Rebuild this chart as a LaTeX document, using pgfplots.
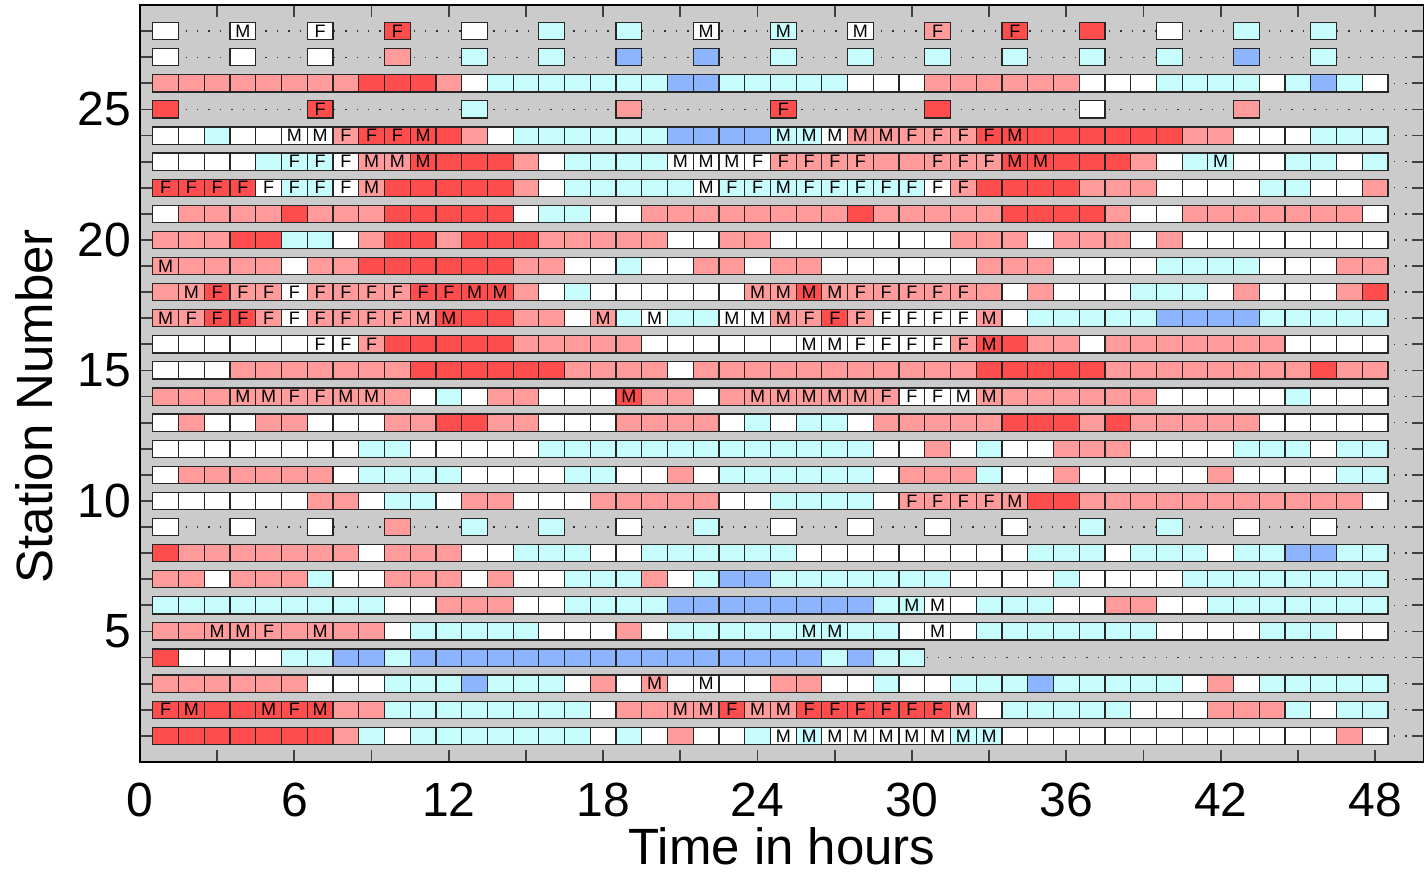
\documentclass[border=0pt]{standalone}
\usepackage{pgfplots}
\usepackage{pgfplotstable}
\pgfplotsset{compat=1.18}
\usepackage{fontspec}
\setmainfont{Liberation Sans}
\usetikzlibrary{calc}

\definecolor{cW}{RGB}{255,255,255}
\definecolor{cC}{RGB}{198,252,252}
\definecolor{cB}{RGB}{140,180,255}
\definecolor{cP}{RGB}{255,155,155}
\definecolor{cR}{RGB}{255,76,76}
\definecolor{bg}{RGB}{203,203,203}

\newcommand\boxpath{\pgfpathrectangle{\pgfpoint{-6.43pt}{-4.3pt}}{\pgfpoint{12.86pt}{8.6pt}}\pgfusepathqfillstroke}
\pgfdeclareplotmark{bx}{\boxpath}
\pgfdeclareplotmark{bxM}{\boxpath\pgftext{\color{black}\fontsize{9}{9}\selectfont M}}
\pgfdeclareplotmark{bxF}{\boxpath\pgftext{\color{black}\fontsize{9}{9}\selectfont F}}
\pgfdeclareplotmark{nobx}{}

% W white, C cyan, B blue, P light red, R red; suffix M/F = label; N = no observation
\pgfplotstableread{
st h1 h2 h3 h4 h5 h6 h7 h8 h9 h10 h11 h12 h13 h14 h15 h16 h17 h18 h19 h20 h21 h22 h23 h24 h25 h26 h27 h28 h29 h30 h31 h32 h33 h34 h35 h36 h37 h38 h39 h40 h41 h42 h43 h44 h45 h46 h47 h48
1  R R R R R R R P C W C C  C C C C C W C W P W W C  WM CM WM WM WM WM WM CM CM W W W  W W W W W W W W W W P W
2  RF RM R R RM RF RM P P C C C  C C C C C W P P PM PM RF PM  PM RF RF RF RF RF RF PM W C C C  C C W W W P P P C W C C
3  P P P P P P W W W C C C  B C C C W P W PM W WM W W  P P W W C W W C C C B C  C C C C W P W C C C C C
4  R W W W W C C B B C B B  B B B B B B B B B B B B  B B C B C C N N N N N N  N N N N N N N N N N N N
5  P P PM PM PF P PM P P W C C  C C C W W W P W C C C C  C CM CM C C W WM W C C C C  C C C W W W W C C C W W
6  C C C C C C C C C W W P  P P W W C C C C B B B B  B B B B C CM WM W C C C W  W P P W W C C C C C C C
7  P P W P P P C W W P P P  W P W W C C C P W C B B  C C C C C C C W W W W C  W W W W C C C C C C C C
8  R P P P P P P P W P P P  W W C C C W W C C C C C  C W W W W W W W W W C C  C W C C C W C C B B C C
9  W N N W N N W N N P N N  C N N C N N W N N C N N  W N N W N N W N N W N N  C N N C N N W N N W N N
10 W W W W W W P P W C C W  P P W W W P P P P P W W  C C C C W PF PF PF PF PM R R  P P P P P P P P P P P W
11 W P P P P P P W C C C C  W W W W C C W W P W C C  C C C C W P P P C W W P  W W W W W P W W W W C C
12 W W W W W W W W C C W W  W W W C C C C C C C C C  C C C C W W P W C W W P  P P W W W W C C C W C C
13 W P W W P P W W W P P R  R P P W W W P P P P W C  W C C W P P P P P R R R  P R P P P P P W W W W W
14 P P P PM PM PF PF PM PM P W C  W P P W W W RM P P W P PM  PM PM PM PM PF WF WF WM PM P P P  P P P W W W W W C W W W
15 W W W P P P P P P P R R  R R R R P P P P W P P P  P P P P P P P P R R R R  R P P P P P P P P R P P
16 W W W W W W WF WF PF R R R  R R P P P P P W W W W W  W WM WM WF WF WF WF PF RM R P P  W P P P P P P P W W W W
17 PM PF RF RF PF WF PF PF PF PF PM RM  R R P P W PM C WM C C WM WM  PM PF RF PF WF WF WF WF PM W C C  C C C B B B B C C C C C
18 P PM RF PF PF WF PF PF PF PF RF RF  RM RM P W C W W W W W W PM  PM RM PM PF PF PF PF PF P W P W  W W C C C W P W W W P R
19 PM P P P P W P P R R R R  R R P P W W C W W P P W  P P W W W W W W P P P W  W W W C C C C W W W P P
20 P P P R R C C W P R R P  R R R P P P P P W W P P  W W W W W W W P P P W P  P P W P W W W W W W W W
21 W P P P P R P P P R R R  R R W C C W W P P P P P  P P P R P P P P P R R R  R P W W P P P P P P P W
22 RF RF RF RF WF CF CF WF PM R R R  R R P W C C C C C WM CF CF  CM CF CF CF CF CF WF PF R R R R  P P P W W W W C C W W P
23 W W W W C CF CF WF PM PM RM R  R R P W C C C C WM WM WM WF  PF PF PF PF P P PF PF PF RM RM R  R R P W C CM W W C C W C
24 W W C W W WM WM PF RF RF RM R  P W C C C C C C B B B B  CM CM WM PM PM PF PF PF RF RM R R  R R R R P P W W W C C C
25 R N N N N N RF N N N N N  C N N N N N P N N N N N  RF N N N N N R N N N N N  W N N N N N P N N N N N
26 P P P P P P P P R R R P  W C C C C C C C B B C C  C C C W W W P P P P P P  W W W C C C C W C B C W
27 W N N W N N W N N P N N  C N N C N N B N N B N N  C N N C N N C N N C N N  C N N C N N B N N C N N
28 W N N WM N N WF N N RF N N  W N N C N N C N N WM N N  CM N N WM N N PF N N RF N N  R N N W N N C N N C N N
}\stations

\pgfplotsset{stn/.style={only marks, scatter, scatter src=explicit symbolic, line width=0.6pt,
  scatter/classes={
    W={mark=bx, draw=black!85, fill=cW},
    C={mark=bx, draw=black!85, fill=cC},
    B={mark=bx, draw=black!85, fill=cB},
    P={mark=bx, draw=black!85, fill=cP},
    R={mark=bx, draw=black!85, fill=cR},
    WM={mark=bxM, draw=black!85, fill=cW},
    WF={mark=bxF, draw=black!85, fill=cW},
    CM={mark=bxM, draw=black!85, fill=cC},
    CF={mark=bxF, draw=black!85, fill=cC},
    PM={mark=bxM, draw=black!85, fill=cP},
    PF={mark=bxF, draw=black!85, fill=cP},
    RM={mark=bxM, draw=black!85, fill=cR},
    RF={mark=bxF, draw=black!85, fill=cR},
    N={mark=nobx}
  }}}

\begin{document}
\begin{tikzpicture}
\begin{axis}[
  name=ax,
  scale only axis, width=642pt, height=378.5pt,
  xmin=0, xmax=49.9, ymin=0, ymax=29,
  axis background/.style={fill=bg},
  xtick={0,6,...,48}, minor xtick={3,9,...,45},
  ytick={5,10,...,25}, minor ytick={1,...,28},
  major tick length=6pt, minor tick length=6pt,
  tick style={black!75, line width=0.9pt},
  ymajorgrids, yminorgrids,
  major grid style={black!80, line width=0.7pt, dash pattern=on 0.7pt off 5pt},
  minor grid style={black!80, line width=0.7pt, dash pattern=on 0.7pt off 5pt},
  axis line style={line width=1pt},
  /pgf/number format/assume math mode=true,
  tick label style={font=\fontsize{24}{24}\selectfont},
  xticklabel style={yshift=-7pt},
  yticklabel style={xshift=-1pt},
  xlabel={Time in hours}, ylabel={Station Number},
  label style={font=\fontsize{25.5}{25.5}\selectfont, inner sep=0pt},
  xlabel style={at={(axis description cs:0.5,0)}, anchor=base, yshift=-51.5pt},
  ylabel style={at={(axis description cs:0,0.47)}, anchor=base, yshift=43.5pt},
]
\pgfplotsinvokeforeach{1,...,48}{
  \addplot[stn] table[x expr=#1, y=st, meta=h#1]{\stations};
}
\end{axis}
\pgfresetboundingbox
\path[use as bounding box] ($(ax.south west)+(-70pt,-55pt)$) rectangle ($(ax.north east)+(0pt,2.5pt)$);
\end{tikzpicture}
\end{document}
